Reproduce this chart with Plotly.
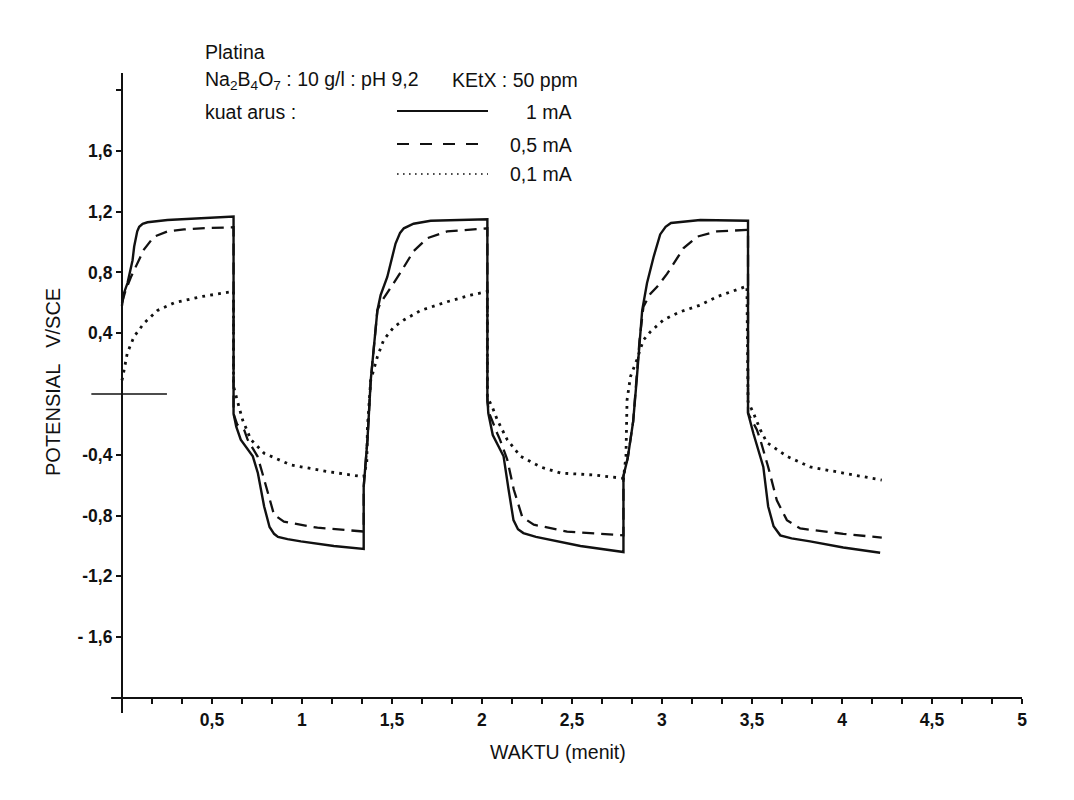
import plotly.graph_objects as go

# ---------------- data ----------------
t_1mA = [0.0, 0.01, 0.031, 0.059, 0.068, 0.085, 0.096, 0.115, 0.142, 0.253, 0.62,
         0.62, 0.635, 0.66, 0.727, 0.755, 0.79, 0.82, 0.845, 0.867, 0.92, 0.994, 1.177, 1.343,
         1.343, 1.364, 1.382, 1.419, 1.437, 1.474, 1.52, 1.545, 1.566, 1.62, 1.715, 2.03,
         2.03, 2.035, 2.06, 2.10, 2.12, 2.148, 2.175, 2.20, 2.23, 2.30, 2.38, 2.547, 2.786,
         2.786, 2.81, 2.84, 2.86, 2.875, 2.89, 2.917, 2.953, 2.99, 3.02, 3.05, 3.213, 3.478,
         3.478, 3.508, 3.53, 3.563, 3.59, 3.62, 3.657, 3.72, 3.823, 4.007, 4.212]
v_1mA = [0.58, 0.66, 0.73, 0.88, 0.97, 1.07, 1.10, 1.12, 1.13, 1.145, 1.167,
         -0.13, -0.215, -0.30, -0.41, -0.52, -0.74, -0.875, -0.92, -0.94, -0.955, -0.97, -1.0, -1.02,
         -0.61, -0.30, 0.09, 0.55, 0.65, 0.77, 0.99, 1.06, 1.09, 1.12, 1.14, 1.15,
         -0.02, -0.125, -0.27, -0.37, -0.41, -0.63, -0.83, -0.89, -0.915, -0.94, -0.96, -1.0, -1.04,
         -0.54, -0.42, -0.18, 0.10, 0.35, 0.55, 0.73, 0.90, 1.05, 1.10, 1.125, 1.145, 1.14,
         -0.125, -0.26, -0.35, -0.48, -0.74, -0.87, -0.93, -0.95, -0.97, -1.01, -1.045]

t_05mA = [0.0, 0.02, 0.05, 0.087, 0.122, 0.178, 0.253, 0.345, 0.438, 0.62,
          0.62, 0.64, 0.68, 0.698, 0.753, 0.78, 0.81, 0.845, 0.9, 1.086, 1.343,
          1.343, 1.364, 1.382, 1.419, 1.437, 1.493, 1.548, 1.62, 1.696, 1.807, 2.03,
          2.03, 2.04, 2.085, 2.10, 2.14, 2.177, 2.224, 2.288, 2.473, 2.786,
          2.786, 2.81, 2.84, 2.86, 2.875, 2.897, 2.936, 2.973, 3.028, 3.12, 3.195, 3.306, 3.478,
          3.478, 3.527, 3.546, 3.59, 3.638, 3.694, 3.768, 4.007, 4.221]
v_05mA = [0.60, 0.68, 0.77, 0.86, 0.95, 1.035, 1.07, 1.083, 1.09, 1.097,
          -0.13, -0.20, -0.24, -0.30, -0.41, -0.52, -0.65, -0.795, -0.84, -0.88, -0.905,
          -0.61, -0.30, 0.09, 0.55, 0.60, 0.70, 0.80, 0.94, 1.025, 1.07, 1.09,
          -0.05, -0.125, -0.26, -0.30, -0.43, -0.63, -0.81, -0.86, -0.905, -0.93,
          -0.54, -0.42, -0.18, 0.10, 0.35, 0.575, 0.66, 0.705, 0.79, 0.96, 1.035, 1.07, 1.08,
          -0.125, -0.235, -0.30, -0.48, -0.70, -0.83, -0.885, -0.92, -0.945]

t_01mA = [0.0, 0.005, 0.03, 0.067, 0.122, 0.198, 0.29, 0.438, 0.62,
          0.62, 0.64, 0.67, 0.716, 0.79, 0.938, 1.14, 1.343,
          1.36, 1.364, 1.382, 1.419, 1.454, 1.51, 1.566, 1.66, 1.807, 1.937, 2.03,
          2.03, 2.057, 2.085, 2.14, 2.214, 2.325, 2.436, 2.62, 2.786,
          2.80, 2.806, 2.825, 2.86, 2.897, 2.936, 3.008, 3.10, 3.213, 3.306, 3.472,
          3.478, 3.508, 3.546, 3.583, 3.694, 3.823, 4.007, 4.221]
v_01mA = [0.09, 0.115, 0.27, 0.377, 0.465, 0.55, 0.60, 0.64, 0.675,
          0.05, -0.04, -0.17, -0.30, -0.39, -0.467, -0.51, -0.545,
          -0.45, -0.215, 0.09, 0.245, 0.355, 0.44, 0.487, 0.55, 0.607, 0.65, 0.675,
          -0.02, -0.085, -0.17, -0.30, -0.41, -0.48, -0.52, -0.533, -0.555,
          -0.41, -0.04, 0.115, 0.224, 0.355, 0.41, 0.487, 0.54, 0.585, 0.64, 0.71,
          -0.05, -0.125, -0.235, -0.32, -0.41, -0.48, -0.52, -0.566]

zero_mark_t = [-0.17, 0.25]
zero_mark_v = [0.0, 0.0]

x_tick_vals = [0.5, 1, 1.5, 2, 2.5, 3, 3.5, 4, 4.5, 5]
x_tick_text = ["0,5", "1", "1,5", "2", "2,5", "3", "3,5", "4", "4,5", "5"]
y_tick_vals = [-1.6, -1.2, -0.8, -0.4, 0.4, 0.8, 1.2, 1.6]
y_tick_text = ["- 1,6", "-1,2", "-0,8", "-0,4", "0,4", "0,8", "1,2", "1,6"]
y_extra_tick = [2.0]

series_names = ["1 mA", "0,5 mA", "0,1 mA"]

# ---------------- layout geometry ----------------
L, R, T, B = 89, 43, 73, 87
W, H = 1074 - L - R, 800 - T - B
X_RANGE = [-0.183, 5.05]
Y_RANGE = [-2.099, 2.112]


def px(xp):
    return (xp - L) / W


def py(yp):
    return (T + H - yp) / H


INK = "#111111"
FONT = "Liberation Sans, Arial, sans-serif"
TICKFONT = dict(family="Liberation Sans, Arial, sans-serif", size=17.5, color=INK, weight="bold")

fig = go.Figure()
fig.add_trace(go.Scatter(x=t_1mA, y=v_1mA, mode="lines", name=series_names[0],
                         line=dict(color=INK, width=2.4)))
fig.add_trace(go.Scatter(x=t_05mA, y=v_05mA, mode="lines", name=series_names[1],
                         line=dict(color=INK, width=2.3, dash="12px,7px")))
fig.add_trace(go.Scatter(x=t_01mA, y=v_01mA, mode="lines", name=series_names[2],
                         line=dict(color=INK, width=2.8, dash="2.8px,5.2px")))
fig.add_trace(go.Scatter(x=zero_mark_t, y=zero_mark_v, mode="lines", showlegend=False,
                         line=dict(color=INK, width=1.6)))

# x-axis base line at y = -2
fig.add_shape(type="line", xref="x", yref="y", x0=-0.06, x1=5.0, y0=-2.0, y1=-2.0,
              line=dict(color=INK, width=2))

minor_x = [k / 6 for k in range(1, 31)]
fig.update_layout(
    width=1074, height=800,
    margin=dict(l=L, r=R, t=T, b=B),
    paper_bgcolor="white", plot_bgcolor="white",
    showlegend=False,
    font=dict(family=FONT, color=INK),
    xaxis=dict(range=X_RANGE, showgrid=False, zeroline=False, showline=False,
               anchor="free", position=(-2.0 - Y_RANGE[0]) / (Y_RANGE[1] - Y_RANGE[0]),
               tickmode="array", tickvals=x_tick_vals, ticktext=x_tick_text,
               ticks="outside", ticklen=5, tickwidth=2, tickcolor=INK,
               minor=dict(tickmode="array", tickvals=minor_x, ticks="outside", ticklen=5,
                          tickwidth=2, tickcolor=INK, showgrid=False),
               tickfont=TICKFONT, ticklabelstandoff=1),
    yaxis=dict(range=Y_RANGE, showgrid=False, zeroline=False, showline=True,
               linecolor=INK, linewidth=2,
               anchor="free", position=(0 - X_RANGE[0]) / (X_RANGE[1] - X_RANGE[0]),
               tickmode="array", tickvals=y_tick_vals, ticktext=y_tick_text,
               ticks="outside", ticklen=5, tickwidth=2, tickcolor=INK,
               minor=dict(tickmode="array", tickvals=y_extra_tick, ticks="outside", ticklen=5,
                          tickwidth=2, tickcolor=INK, showgrid=False),
               tickfont=TICKFONT),
)

ann = []
TXT = 19.5


def text(x, y, s, anchor="left", size=TXT, **kw):
    ann.append(dict(x=px(x), y=py(y), xref="paper", yref="paper", text=s, showarrow=False,
                    xanchor=anchor, yanchor="middle", font=dict(size=size, family=FONT, color=INK), **kw))


text(203, 52, "Platina")
text(203, 80, "Na<sub>2</sub>B<sub>4</sub>O<sub>7</sub> : 10 g/l : pH 9,2")
text(450, 80, "KEtX : 50 ppm")
text(203, 112, "kuat arus :")
text(574, 112, series_names[0], anchor="right")
text(574, 145, series_names[1], anchor="right")
text(574, 174, series_names[2], anchor="right")
text(558, 752, "WAKTU (menit)", anchor="center", size=19.5)
text(53, 382, "POTENSIAL   V/SCE", anchor="center", size=20, textangle=-90)
fig.update_layout(annotations=ann)

# legend samples
for yy, dash, wdt in [(111, "solid", 2), (144, "12px,11px", 2), (174, "1.6px,4.4px", 1.6)]:
    fig.add_shape(type="line", xref="paper", yref="paper", x0=px(397), x1=px(488),
                  y0=py(yy), y1=py(yy), line=dict(color=INK, width=wdt, dash=dash))

fig.write_html("out.html")
